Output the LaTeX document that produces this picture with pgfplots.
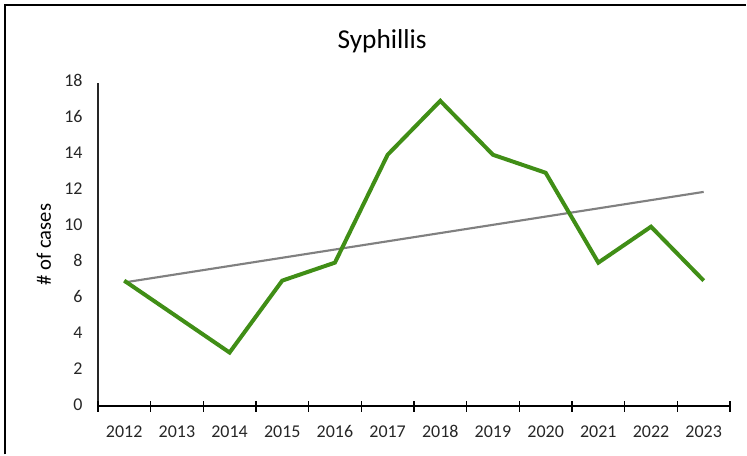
\documentclass[border=0pt]{standalone}
\usepackage{pgfplots}
\pgfplotsset{compat=1.18}
\usepackage{fontspec}
\setmainfont{Carlito}

\definecolor{casegreen}{RGB}{64,142,22}
\definecolor{trendgrey}{RGB}{128,128,128}

% Annual case counts, 2012-2023 (x = 0 ... 11)
\pgfplotstableread{
x y
0 7
1 5
2 3
3 7
4 8
5 14
6 17
7 14
8 13
9 8
10 10
11 7
}\cases

% Linear trend fitted to the counts
\pgfplotstableread{
x y
0 6.898
11 11.936
}\trend

\begin{document}
\begin{tikzpicture}[x=1pt,y=1pt]
  % page extent and frame
  \path (0,0) rectangle (560.25,341.25);
  \draw[line width=1.5pt,black] (3.75,0) -- (3.75,337.5) -- (560.25,337.5);

  \node[anchor=base,font=\fontsize{20.5}{24}\selectfont] at (287,304.5) {Syphillis};

  \begin{axis}[
    at={(73.5pt,36pt)}, anchor=south west,
    scale only axis,
    width=474.75pt, height=243pt,
    xmin=-0.5, xmax=11.5,
    ymin=0, ymax=18,
    axis x line*=bottom,
    axis y line*=left,
    x axis line style={line width=1.5pt,black,-},
    y axis line style={line width=1pt,black!85,-},
    xtick={0,...,11},
    xticklabels={2012,2013,2014,2015,2016,2017,2018,2019,2020,2021,2022,2023},
    typeset ticklabels with strut,
    extra x ticks={-0.5,0.5,...,11.5},
    extra x tick labels={},
    extra x tick style={major tick length=8pt, tick style={line width=1pt,black}, tick align=center},
    major tick length=0pt,
    ytick={0,2,...,18},
    tick label style={font=\fontsize{13.5}{15}\selectfont, text=black!85},
    /pgf/number format/assume math mode=true,
    xticklabel style={yshift=-9pt},
    yticklabel style={xshift=-8pt},
    ylabel={\# of cases},
    ylabel style={font=\fontsize{15.5}{18}\selectfont, at={(axis description cs:-0.0853,0.5)}, anchor=center},
    clip=false,
  ]
    \addplot[trendgrey, line width=1.6pt] table[x=x,y=y] {\trend};
    \addplot[casegreen, line width=3pt, line join=miter] table[x=x,y=y] {\cases};
  \end{axis}
\end{tikzpicture}
\end{document}
